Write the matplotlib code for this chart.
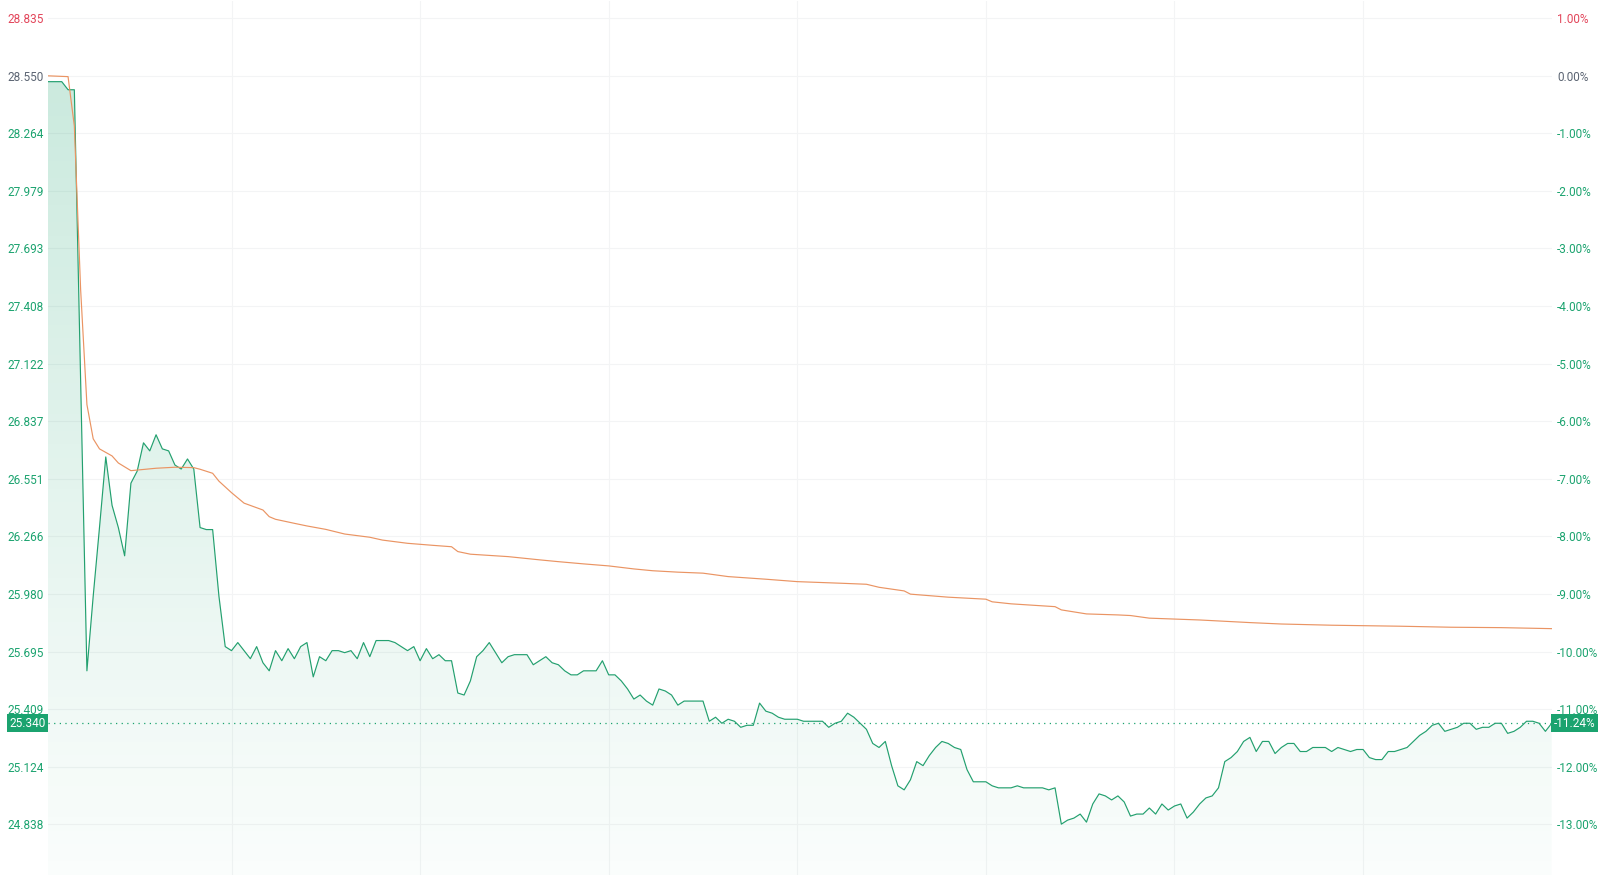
import numpy as np
import matplotlib
matplotlib.use("Agg")
import matplotlib.pyplot as plt
from matplotlib.patches import Polygon
from matplotlib.transforms import blended_transform_factory

plt.rcParams['font.family'] = ['Roboto', 'DejaVu Sans']

# Datos: precio minuto a minuto (09:30-11:30, 13:00-15:00)
price = [
    28.52, 28.52, 28.52, 28.52, 28.48, 28.48, 27.04, 25.60, 25.97, 26.31,
    26.66, 26.42, 26.31, 26.17, 26.53, 26.59, 26.73, 26.69, 26.77, 26.70,
    26.69, 26.62, 26.60, 26.65, 26.60, 26.31, 26.30, 26.30, 25.97, 25.72,
    25.70, 25.74, 25.70, 25.66, 25.72, 25.64, 25.60, 25.70, 25.65, 25.71,
    25.66, 25.72, 25.74, 25.57, 25.67, 25.65, 25.70, 25.70, 25.69, 25.70,
    25.66, 25.74, 25.67, 25.75, 25.75, 25.75, 25.74, 25.72, 25.70, 25.72,
    25.65, 25.71, 25.66, 25.68, 25.65, 25.65, 25.49, 25.48, 25.55, 25.67,
    25.70, 25.74, 25.69, 25.64, 25.67, 25.68, 25.68, 25.68, 25.63, 25.65,
    25.67, 25.64, 25.63, 25.60, 25.58, 25.58, 25.60, 25.60, 25.60, 25.65,
    25.58, 25.58, 25.55, 25.51, 25.46, 25.48, 25.45, 25.43, 25.51, 25.50,
    25.48, 25.43, 25.45, 25.45, 25.45, 25.45, 25.35, 25.37, 25.34, 25.36,
    25.35, 25.32, 25.33, 25.33, 25.44, 25.40, 25.39, 25.37, 25.36, 25.36,
    25.36, 25.35, 25.35, 25.35, 25.35, 25.32, 25.34, 25.35, 25.39, 25.37,
    25.34, 25.31, 25.24, 25.22, 25.25, 25.13, 25.03, 25.01, 25.06, 25.15,
    25.13, 25.18, 25.22, 25.25, 25.24, 25.22, 25.21, 25.11, 25.05, 25.05,
    25.05, 25.03, 25.02, 25.02, 25.02, 25.03, 25.02, 25.02, 25.02, 25.02,
    25.01, 25.02, 24.84, 24.86, 24.87, 24.89, 24.85, 24.94, 24.99, 24.98,
    24.96, 24.98, 24.95, 24.88, 24.89, 24.89, 24.92, 24.89, 24.94, 24.91,
    24.93, 24.94, 24.87, 24.90, 24.94, 24.97, 24.98, 25.02, 25.15, 25.17,
    25.20, 25.25, 25.27, 25.20, 25.25, 25.25, 25.19, 25.22, 25.24, 25.24,
    25.20, 25.20, 25.22, 25.22, 25.22, 25.20, 25.22, 25.21, 25.20, 25.21,
    25.21, 25.17, 25.16, 25.16, 25.20, 25.20, 25.21, 25.22, 25.25, 25.28,
    25.30, 25.33, 25.34, 25.30, 25.31, 25.32, 25.34, 25.34, 25.31, 25.32,
    25.32, 25.34, 25.34, 25.29, 25.30, 25.32, 25.35, 25.35, 25.34, 25.30,
    25.34,
]

# Precio medio (minuto, valor)
avg_min = [0, 4, 5, 6, 7, 8, 9, 11, 12, 14, 18, 21, 24, 25, 27, 28, 30, 32, 35,
           36, 37, 40, 42, 45, 48, 52, 54, 58, 62, 65, 66, 68, 74, 79, 82, 86,
           90, 94, 97, 101, 105, 109, 115, 120, 127, 131, 133, 137, 138, 144,
           150, 151, 154, 161, 162, 166, 171, 173, 176, 184, 192, 197, 205,
           216, 224, 232, 240]
avg_val = [28.550, 28.545, 28.300, 27.490, 26.920, 26.750, 26.700, 26.665,
           26.630, 26.592, 26.604, 26.609, 26.607, 26.599, 26.579, 26.540,
           26.483, 26.431, 26.397, 26.364, 26.351, 26.331, 26.318, 26.301,
           26.278, 26.262, 26.248, 26.232, 26.222, 26.215, 26.191, 26.178,
           26.166, 26.150, 26.141, 26.130, 26.120, 26.105, 26.096, 26.089,
           26.084, 26.067, 26.054, 26.042, 26.034, 26.029, 26.014, 25.996,
           25.980, 25.965, 25.955, 25.942, 25.932, 25.918, 25.902, 25.882,
           25.877, 25.874, 25.861, 25.852, 25.839, 25.832, 25.826, 25.821,
           25.816, 25.814, 25.809]

prev_close = 28.550
last_price = 25.340
last_pct = "-11.24%"

left_labels = ["28.835", "28.550", "28.264", "27.979", "27.693", "27.408",
               "27.122", "26.837", "26.551", "26.266", "25.980", "25.695",
               "25.409", "25.124", "24.838"]
right_labels = ["1.00%", "0.00%", "-1.00%", "-2.00%", "-3.00%", "-4.00%",
                "-5.00%", "-6.00%", "-7.00%", "-8.00%", "-9.00%", "-10.00%",
                "-11.00%", "-12.00%", "-13.00%"]
pct_steps = [1, 0, -1, -2, -3, -4, -5, -6, -7, -8, -9, -10, -11, -12, -13]

GREEN = "#1ba36f"
LINE_GREEN = "#23a06f"
ORANGE = "#ea9463"
RED = "#e2455a"
GRAY = "#5b6472"

t = np.arange(len(price))
ticks = [prev_close * (1 + p / 100) for p in pct_steps]
ylo, yhi = 24.588, 28.920
xlo, xhi = 0.81, 240

fig = plt.figure(figsize=(16, 8.75), dpi=100)
ax = fig.add_axes([0.03, 0.0, 0.9398, 0.9989])
ax.set_xlim(xlo, xhi)
ax.set_ylim(ylo, yhi)

# rejilla
for y in ticks:
    ax.axhline(y, color="#f3f4f5", lw=0.8, zorder=0)
for x in range(30, 240, 30):
    ax.axvline(x, color="#f3f4f5", lw=0.8, zorder=0)

# área con degradado
grad = np.zeros((256, 1, 4))
grad[:, 0, 0] = 27 / 255
grad[:, 0, 1] = 163 / 255
grad[:, 0, 2] = 111 / 255
grad[:, 0, 3] = np.linspace(0.25, 0.02, 256)
verts = list(zip(t, price)) + [(t[-1], ylo), (t[0], ylo)]
poly = Polygon(verts, closed=True, facecolor="none", edgecolor="none")
ax.add_patch(poly)
img = ax.imshow(grad, extent=[t[0], t[-1], ylo, yhi], aspect="auto",
                origin="upper", zorder=1)
img.set_clip_path(poly)

ax.plot(t, price, color=LINE_GREEN, lw=0.85, zorder=3)
ax.plot(avg_min, avg_val, color=ORANGE, lw=0.85, zorder=3)
ax.axhline(last_price, color=GREEN, lw=0.9, ls=(0, (1, 3.5)), zorder=2)

for s in ax.spines.values():
    s.set_visible(False)
ax.set_xticks([])
ax.set_yticks(ticks)
ax.set_yticklabels(left_labels, fontsize=8.5)
ax.tick_params(axis="y", length=0, pad=3)
ax2 = ax.twinx()
ax2.set_ylim(ylo, yhi)
ax2.set_yticks(ticks)
ax2.set_yticklabels(right_labels, fontsize=8.5)
ax2.tick_params(axis="y", length=0, pad=4)
for s in ax2.spines.values():
    s.set_visible(False)

for lab_set in (ax.get_yticklabels(), ax2.get_yticklabels()):
    for i, lab in enumerate(lab_set):
        if pct_steps[i] > 0:
            lab.set_color(RED)
        elif pct_steps[i] == 0:
            lab.set_color(GRAY)
        else:
            lab.set_color(GREEN)

# etiquetas del último precio
tr = blended_transform_factory(ax.transAxes, ax.transData)
ax.text(-0.0015, last_price, "25.340", transform=tr, ha="right", va="center",
        fontsize=8.5, color="white", zorder=5, clip_on=False,
        bbox=dict(boxstyle="square,pad=0.22", fc=GREEN, ec="none"))
ax.text(1.0015, last_price, last_pct, transform=tr, ha="left", va="center",
        fontsize=8.5, color="white", zorder=5, clip_on=False,
        bbox=dict(boxstyle="square,pad=0.22", fc=GREEN, ec="none"))

fig.savefig("out.png", dpi=100)
